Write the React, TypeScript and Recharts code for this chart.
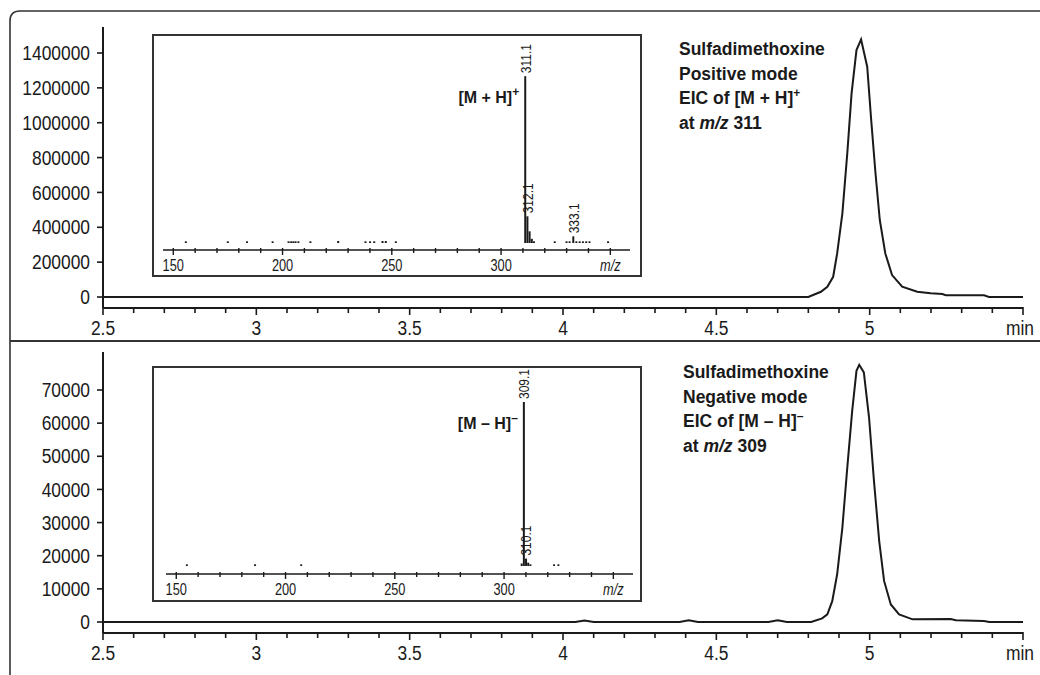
import { Bar, BarChart, LabelList, Line, LineChart, XAxis, YAxis } from "recharts";

const SANS = '"Liberation Sans", Arial, sans-serif';
const INK = "#1a1a1a";

// retention time axis, minutes
const TIME_TICKS = [
  2.5, 2.6, 2.7, 2.8, 2.9, 3, 3.1, 3.2, 3.3, 3.4, 3.5, 3.6, 3.7, 3.8, 3.9, 4, 4.1, 4.2, 4.3, 4.4, 4.5,
  4.6, 4.7, 4.8, 4.9, 5, 5.1, 5.2, 5.3, 5.4, 5.5,
];
const TIME_MAJOR = [2.5, 3, 3.5, 4, 4.5, 5, 5.5];
const TIME_LABELS = ["2.5", "3", "3.5", "4", "4.5", "5", "min"];

const POS_Y_TICKS = [0, 200000, 400000, 600000, 800000, 1000000, 1200000, 1400000];
const NEG_Y_TICKS = [0, 10000, 20000, 30000, 40000, 50000, 60000, 70000];

// EIC m/z 311, positive mode
const posTime = [
  2.5, 4.8, 4.841, 4.862, 4.881, 4.894, 4.911, 4.927, 4.941, 4.957, 4.972, 4.992, 5.005, 5.019, 5.033,
  5.051, 5.073, 5.106, 5.155, 5.199, 5.237, 5.248, 5.373, 5.389, 5.5,
];
const posAbund = [
  0, 0, 30000, 59000, 116000, 250000, 480000, 824000, 1168000, 1417000, 1478000, 1321000, 1015000,
  710000, 442000, 250000, 126000, 59000, 30000, 21000, 17000, 10000, 10000, 0, 0,
];

// EIC m/z 309, negative mode
const negTime = [
  2.5, 4.04, 4.07, 4.1, 4.38, 4.41, 4.44, 4.67, 4.7, 4.73, 4.809, 4.845, 4.862, 4.878, 4.894, 4.911,
  4.927, 4.943, 4.957, 4.966, 4.981, 4.998, 5.014, 5.031, 5.047, 5.069, 5.096, 5.14, 5.264, 5.281,
  5.373, 5.39, 5.5,
];
const negAbund = [
  0, 0, 450, 0, 0, 500, 0, 0, 500, 0, 0, 1100, 2300, 6300, 14400, 28500, 46600, 63700, 75800, 77600,
  75300, 61700, 42600, 24500, 12400, 5300, 2300, 800, 900, 500, 300, 0, 0,
];

// mass spectra (relative abundance, %)
const MZ_TICKS = [
  150, 160, 170, 180, 190, 200, 210, 220, 230, 240, 250, 260, 270, 280, 290, 300, 310, 320, 330, 340, 350,
];
const MZ_MAJOR = [150, 200, 250, 300, 350];
const MZ_LABELS = ["150", "200", "250", "300", "m/z"];

const posMz = [
  155.8, 175, 183.8, 195.5, 202.8, 204, 205, 206, 207.3, 212.8, 225.5, 238, 240.1, 242, 245.8, 247.3,
  251.9, 311.1, 312.1, 313.1, 314.1, 315.1, 324.6, 330, 331.4, 333.1, 334.5, 336, 337.5, 339, 340.5, 349,
];
const posRel = [
  1, 1, 1, 1, 1, 1, 1, 1, 1, 1, 1.2, 1, 1, 1, 1.2, 1.2, 1, 100, 16, 7, 2.5, 1, 1, 1, 1, 4, 1, 1, 1, 1,
  1, 1,
];
const posLabelled = [311.1, 312.1, 333.1];

const negMz = [154.9, 186.1, 207.2, 308.1, 309.1, 310.1, 311.1, 312.1, 322.9, 324.9];
const negRel = [1, 1, 1, 1.5, 100, 4.5, 2, 1, 1, 1];
const negLabelled = [309.1, 310.1];

const rows = (xs: number[], ys: number[]) => xs.map((x, i) => ({ x, y: ys[i] }));

const spectrum = (mz: number[], rel: number[], labelled: number[], ionMz: number) =>
  mz.map((m, i) => ({
    mz: m,
    rel: rel[i],
    label: labelled.includes(m) ? String(m) : undefined,
    ion: m === ionMz ? "ion" : undefined,
  }));

// the original uses a condensed face; squeeze Liberation Sans horizontally
function Narrow({
  x,
  y,
  size,
  squeeze,
  anchor = "middle",
  dy,
  rotate = 0,
  italic,
  children,
}: {
  x: number;
  y: number;
  size: number;
  squeeze: number;
  anchor?: string;
  dy?: string;
  rotate?: number;
  italic?: boolean;
  children: React.ReactNode;
}) {
  return (
    <text
      transform={`translate(${x} ${y}) rotate(${rotate}) scale(${squeeze} 1)`}
      x={0}
      y={0}
      dy={dy}
      textAnchor={anchor}
      fontFamily={SANS}
      fontSize={size}
      fontStyle={italic ? "italic" : "normal"}
      fill={INK}
    >
      {children}
    </text>
  );
}

function TimeTick(props: any) {
  const { x, y, payload } = props;
  const i = TIME_MAJOR.findIndex((t) => Math.abs(t - payload.value) < 1e-6);
  const major = i >= 0;
  const label = major ? TIME_LABELS[i] : "";
  return (
    <g>
      <line x1={x} x2={x} y1={y - 1} y2={y + (major ? 7 : 5)} stroke={INK} strokeWidth={1.6} />
      {label && (
        <Narrow x={label === "min" ? x - 3 : x} y={y + 27} size={20} squeeze={0.87}>
          {label}
        </Narrow>
      )}
    </g>
  );
}

function CountTick(props: any) {
  const { x, y, payload } = props;
  return (
    <Narrow x={x} y={y} dy="0.36em" anchor="end" size={20} squeeze={0.87}>
      {payload.value}
    </Narrow>
  );
}

function MzTick(props: any) {
  const { x, y, payload } = props;
  const i = MZ_MAJOR.findIndex((t) => Math.abs(t - payload.value) < 1e-6);
  const major = i >= 0;
  const label = major ? MZ_LABELS[i] : "";
  return (
    <g>
      <line x1={x} x2={x} y1={y - 2} y2={y + (major ? 5 : 3)} stroke={INK} strokeWidth={1.4} />
      {label && (
        <Narrow x={x} y={y + 21} size={16} squeeze={0.8} italic={label === "m/z"}>
          {label}
        </Narrow>
      )}
    </g>
  );
}

type ChromProps = {
  top: number;
  height: number;
  marginTop: number;
  axisHeight: number;
  domain: [number, number];
  ticks: number[];
  data: { x: number; y: number }[];
};

function Chromatogram({ top, height, marginTop, axisHeight, domain, ticks, data }: ChromProps) {
  return (
    <div style={{ position: "absolute", left: 0, top }}>
      <LineChart width={1040} height={height} data={data} margin={{ top: marginTop, right: 17, left: 0, bottom: 0 }}>
        <XAxis
          dataKey="x"
          type="number"
          domain={[2.5, 5.5]}
          ticks={TIME_TICKS}
          interval={0}
          height={axisHeight}
          tickSize={0}
          tickMargin={0}
          tickLine={false}
          tick={TimeTick}
          axisLine={{ stroke: INK, strokeWidth: 2 }}
          allowDataOverflow
        />
        <YAxis
          type="number"
          domain={domain}
          ticks={ticks}
          interval={0}
          width={103}
          tickSize={6}
          tickMargin={7}
          tickLine={{ stroke: INK, strokeWidth: 1.6 }}
          axisLine={{ stroke: INK, strokeWidth: 2 }}
          tick={CountTick}
          allowDataOverflow
        />
        <Line
          dataKey="y"
          type="linear"
          stroke={INK}
          strokeWidth={2}
          dot={false}
          isAnimationActive={false}
        />
      </LineChart>
    </div>
  );
}

type InsetProps = {
  left: number;
  top: number;
  width: number;
  height: number;
  margin: { top: number; right: number; left: number; bottom: number };
  axisHeight: number;
  domain: [number, number];
  data: ReturnType<typeof spectrum>;
  ion: string;
  charge: string;
};

function Inset({ left, top, width, height, margin, axisHeight, domain, data, ion, charge }: InsetProps) {
  const peakLabel = (props: any) => {
    if (!props.value) return null;
    const vb = props.viewBox ?? props;
    const cx = vb.x + vb.width / 2;
    return (
      <Narrow x={cx} y={vb.y - 3} dy="0.36em" anchor="start" rotate={-90} size={15} squeeze={0.8}>
        {props.value}
      </Narrow>
    );
  };
  const ionLabel = (props: any) => {
    if (!props.value) return null;
    const vb = props.viewBox ?? props;
    const cx = vb.x + vb.width / 2;
    return (
      <text x={cx - 6} y={vb.y + 27} textAnchor="end" fontFamily={SANS} fontWeight="bold" fontSize={16} fill={INK}>
        {ion}
        <tspan dy={-7} fontSize={12}>
          {charge}
        </tspan>
      </text>
    );
  };
  return (
    <>
      <div
        style={{
          position: "absolute",
          left,
          top,
          width,
          height,
          border: "2px solid #333",
          boxSizing: "border-box",
          background: "#fff",
        }}
      />
      <div style={{ position: "absolute", left, top }}>
        <BarChart width={width} height={height} data={data} margin={margin}>
          <XAxis
            dataKey="mz"
            type="number"
            domain={[145.3, 359]}
            ticks={MZ_TICKS}
            interval={0}
            height={axisHeight}
            tickSize={0}
            tickMargin={0}
            tickLine={false}
            tick={MzTick}
            axisLine={{ stroke: INK, strokeWidth: 1.6 }}
            allowDataOverflow
          />
          <YAxis hide type="number" domain={domain} allowDataOverflow />
          <Bar dataKey="rel" barSize={2} fill={INK} isAnimationActive={false}>
            <LabelList dataKey="label" content={peakLabel} />
            <LabelList dataKey="ion" content={ionLabel} />
          </Bar>
        </BarChart>
      </div>
    </>
  );
}

function Note({ x, y, lines }: { x: number; y: number; lines: React.ReactNode[] }) {
  return (
    <text x={x} y={y} fontFamily={SANS} fontWeight="bold" fontSize={17.5} fill={INK}>
      {lines.map((l, i) => (
        <tspan key={i} x={x} dy={i === 0 ? 0 : 24.6}>
          {l}
        </tspan>
      ))}
    </text>
  );
}

export default function App() {
  return (
    <div style={{ position: "absolute", left: 0, top: 0, width: 1040, height: 675, background: "#fff" }}>
      <Chromatogram
        top={0}
        height={341}
        marginTop={27}
        axisHeight={33}
        domain={[-63100, 1549200]}
        ticks={POS_Y_TICKS}
        data={rows(posTime, posAbund)}
      />
      <Chromatogram
        top={341}
        height={334}
        marginTop={11}
        axisHeight={42}
        domain={[-3320, 81470]}
        ticks={NEG_Y_TICKS}
        data={rows(negTime, negAbund)}
      />
      <Inset
        left={152}
        top={34}
        width={490}
        height={243}
        margin={{ top: 8, right: 12, left: 11, bottom: 0 }}
        axisHeight={27}
        domain={[-4.2, 120.5]}
        data={spectrum(posMz, posRel, posLabelled, 311.1)}
        ion="[M + H]"
        charge="+"
      />
      <Inset
        left={152}
        top={366}
        width={490}
        height={236}
        margin={{ top: 6, right: 9, left: 14, bottom: 0 }}
        axisHeight={28}
        domain={[-4.9, 118.3]}
        data={spectrum(negMz, negRel, negLabelled, 309.1)}
        ion="[M – H]"
        charge="–"
      />
      <svg
        width={1040}
        height={675}
        style={{ position: "absolute", left: 0, top: 0, pointerEvents: "none" }}
      >
        <path d="M 10 675 L 10 21 Q 10 11 20 11 L 1040 11" fill="none" stroke="#333" strokeWidth={1.6} />
        <line x1={10} x2={1040} y1={341} y2={341} stroke="#333" strokeWidth={2} />
        <Note
          x={679}
          y={55}
          lines={[
            "Sulfadimethoxine",
            "Positive mode",
            <>
              EIC of [M + H]<tspan dy={-7} fontSize={12}>+</tspan>
              <tspan dy={7}> </tspan>
            </>,
            <>
              at <tspan fontStyle="italic">m/z</tspan> 311
            </>,
          ]}
        />
        <Note
          x={683}
          y={378}
          lines={[
            "Sulfadimethoxine",
            "Negative mode",
            <>
              EIC of [M – H]<tspan dy={-7} fontSize={12}>–</tspan>
              <tspan dy={7}> </tspan>
            </>,
            <>
              at <tspan fontStyle="italic">m/z</tspan> 309
            </>,
          ]}
        />
      </svg>
    </div>
  );
}
